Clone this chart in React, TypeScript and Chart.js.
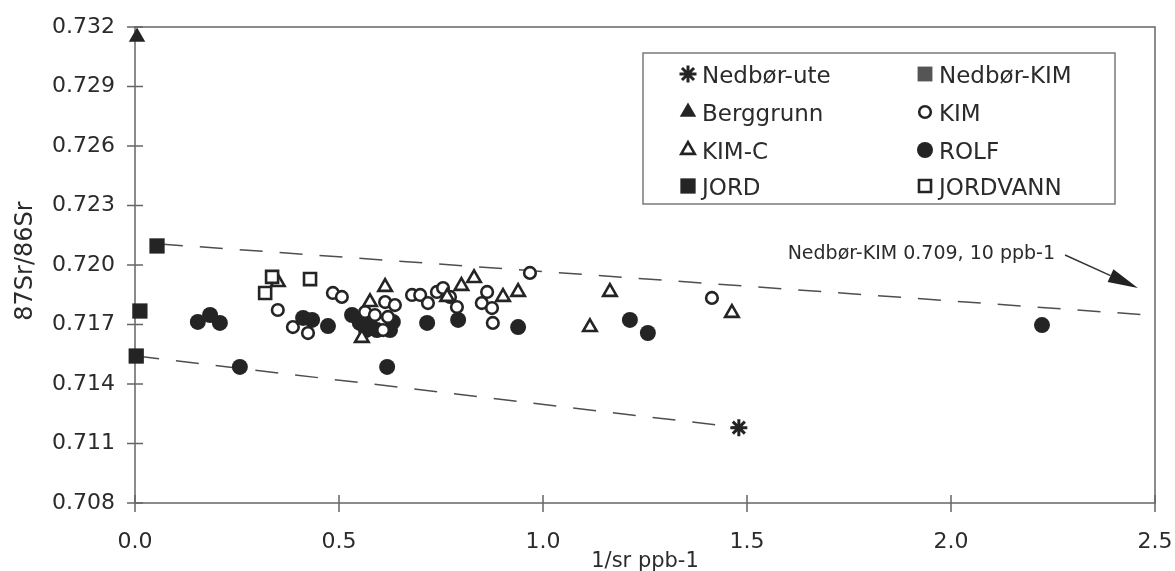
import React, { useEffect, useRef } from "react";
import { Chart, registerables } from "chart.js";
import { drawPoint } from "chart.js/helpers";

Chart.register(...registerables);

// ---------------- data ----------------
const nedborUteX = [1.48];
const nedborUteY = [0.7118];

const nedborKimX = [10];
const nedborKimY = [0.709];

const berggrunnX = [0.005];
const berggrunnY = [0.7315];

const kimX = [0.35, 0.387, 0.424, 0.485, 0.507, 0.564, 0.588, 0.613, 0.637, 0.62, 0.608, 0.679, 0.699, 0.718, 0.74, 0.755, 0.772, 0.789, 0.863, 0.85, 0.875, 0.877, 0.968, 1.414];
const kimY = [0.71773, 0.71687, 0.71657, 0.71859, 0.71839, 0.71763, 0.71748, 0.71813, 0.71798, 0.71738, 0.71672, 0.71849, 0.71849, 0.71808, 0.71864, 0.71884, 0.71839, 0.71788, 0.71864, 0.71808, 0.71783, 0.71708, 0.7196, 0.71834];

const kimCX = [0.35, 0.556, 0.576, 0.613, 0.765, 0.8, 0.831, 0.902, 0.939, 1.115, 1.164, 1.463];
const kimCY = [0.71914, 0.71632, 0.71813, 0.71889, 0.71839, 0.71894, 0.71934, 0.71839, 0.71864, 0.71687, 0.71864, 0.71758];

const rolfX = [0.154, 0.184, 0.208, 0.257, 0.412, 0.434, 0.473, 0.532, 0.551, 0.566, 0.576, 0.593, 0.625, 0.632, 0.618, 0.716, 0.792, 0.939, 1.213, 1.257, 2.223];
const rolfY = [0.71713, 0.71748, 0.71708, 0.71486, 0.71733, 0.71723, 0.71692, 0.71748, 0.71708, 0.71672, 0.71697, 0.71672, 0.71672, 0.71713, 0.71486, 0.71708, 0.71723, 0.71687, 0.71723, 0.71657, 0.71697];

const jordX = [0.054, 0.012, 0.003];
const jordY = [0.72096, 0.71768, 0.71541];

const jordvannX = [0.336, 0.319, 0.429];
const jordvannY = [0.7194, 0.71859, 0.71929];

const upperLineX = [0.061, 2.5];
const upperLineY = [0.72106, 0.71745];
const lowerLineX = [0.003, 1.48];
const lowerLineY = [0.71541, 0.7118];

const xMin = 0;
const xMax = 2.5;
const xStep = 0.5;
const yMin = 0.708;
const yMax = 0.732;
const yStep = 0.003;

const xTitle = "1/sr ppb-1";
const yTitle = "87Sr/86Sr";
const noteText = "Nedbør-KIM 0.709, 10 ppb-1";

// ---------------- styles ----------------
const INK = "#242424";
const AXIS = "#666666";
const TEXT = "#2b2b2b";
const FONT = "'DejaVu Sans', sans-serif";

type Mk = { style: any; r: number; fill: string; stroke: string; bw: number };
const mk = {
  nedborUte: { style: "star", r: 8.5, fill: INK, stroke: INK, bw: 3 } as Mk,
  nedborKim: { style: "rect", r: 10.5, fill: "#555555", stroke: "#555555", bw: 0 } as Mk,
  berggrunn: { style: "triangle", r: 9.5, fill: INK, stroke: INK, bw: 0 } as Mk,
  kim: { style: "circle", r: 5.8, fill: "#ffffff", stroke: INK, bw: 2.6 } as Mk,
  kimC: { style: "triangle", r: 7.8, fill: "#ffffff", stroke: INK, bw: 2.6 } as Mk,
  rolf: { style: "circle", r: 8, fill: INK, stroke: INK, bw: 0 } as Mk,
  jord: { style: "rect", r: 10.8, fill: INK, stroke: INK, bw: 0 } as Mk,
  jordvann: { style: "rect", r: 8.5, fill: "#ffffff", stroke: INK, bw: 2.6 } as Mk,
};

const zip = (xs: number[], ys: number[]) => xs.map((x, i) => ({ x, y: ys[i] }));

const pointSet = (label: string, xs: number[], ys: number[], m: Mk, order: number, clip: any = false) => ({
  type: "scatter" as const,
  label,
  data: zip(xs, ys),
  pointStyle: m.style,
  pointRadius: m.r,
  pointBackgroundColor: m.fill,
  pointBorderColor: m.stroke,
  pointBorderWidth: m.bw,
  showLine: false,
  order,
  clip,
});

const lineSet = (xs: number[], ys: number[]) => ({
  type: "line" as const,
  label: "",
  data: zip(xs, ys),
  borderColor: "#4e4e4e",
  borderWidth: 1.5,
  borderDash: [23, 17],
  pointRadius: 0,
  showLine: true,
  fill: false,
  order: 20,
});

const legendLeft: [string, Mk][] = [
  ["Nedbør-ute", mk.nedborUte],
  ["Berggrunn", mk.berggrunn],
  ["KIM-C", mk.kimC],
  ["JORD", mk.jord],
];
const legendRight: [string, Mk][] = [
  ["Nedbør-KIM", mk.nedborKim],
  ["KIM", mk.kim],
  ["ROLF", mk.rolf],
  ["JORDVANN", mk.jordvann],
];

function paintMarker(ctx: CanvasRenderingContext2D, m: Mk, x: number, y: number, scale = 1) {
  ctx.save();
  ctx.fillStyle = m.fill;
  ctx.strokeStyle = m.stroke;
  ctx.lineWidth = m.bw;
  drawPoint(ctx, { pointStyle: m.style, radius: m.r * scale, rotation: 0, borderWidth: m.bw } as any, x, y);
  ctx.restore();
}

const decor = {
  id: "decor",
  beforeDatasetsDraw(chart: any) {
    const { ctx, chartArea: a } = chart;
    const xs = chart.scales.x;
    const ys = chart.scales.y;
    ctx.save();
    ctx.strokeStyle = AXIS;
    ctx.lineWidth = 1.5;
    ctx.strokeRect(a.left, a.top, a.right - a.left, a.bottom - a.top);
    ctx.beginPath();
    ys.ticks.forEach((t: any) => {
      const p = ys.getPixelForValue(t.value);
      ctx.moveTo(a.left - 8, p);
      ctx.lineTo(a.left + 8, p);
    });
    xs.ticks.forEach((t: any) => {
      const p = xs.getPixelForValue(t.value);
      ctx.moveTo(p, a.bottom - 8);
      ctx.lineTo(p, a.bottom + 9);
    });
    ctx.stroke();
    ctx.restore();
  },
  afterDraw(chart: any) {
    const { ctx, chartArea: a } = chart;
    const xs = chart.scales.x;
    const ys = chart.scales.y;
    ctx.save();

    // axis titles
    ctx.fillStyle = TEXT;
    ctx.font = `21px ${FONT}`;
    ctx.textAlign = "center";
    ctx.textBaseline = "alphabetic";
    ctx.fillText(xTitle, (a.left + a.right) / 2, 567);

    ctx.save();
    ctx.translate(32, (a.top + a.bottom) / 2 - 4);
    ctx.rotate(-Math.PI / 2);
    ctx.font = `24px ${FONT}`;
    ctx.fillText(yTitle, 0, 0);
    ctx.restore();

    // annotation
    const tx = xs.getPixelForValue(2.255);
    const ty = ys.getPixelForValue(0.7203);
    ctx.font = `19px ${FONT}`;
    ctx.textAlign = "right";
    ctx.fillText(noteText, tx, ty);
    const x0 = tx + 10, y0 = ty - 4;
    const x1 = xs.getPixelForValue(2.458), y1 = ys.getPixelForValue(0.71884);
    const ang = Math.atan2(y1 - y0, x1 - x0);
    const hl = 30, hw = 7;
    const bx = x1 - hl * Math.cos(ang), by = y1 - hl * Math.sin(ang);
    ctx.strokeStyle = "#333333";
    ctx.lineWidth = 1.5;
    ctx.beginPath();
    ctx.moveTo(x0, y0);
    ctx.lineTo(bx, by);
    ctx.stroke();
    ctx.fillStyle = "#222222";
    ctx.beginPath();
    ctx.moveTo(x1, y1);
    ctx.lineTo(bx - hw * Math.sin(ang), by + hw * Math.cos(ang));
    ctx.lineTo(bx + hw * Math.sin(ang), by - hw * Math.cos(ang));
    ctx.closePath();
    ctx.fill();

    // legend
    const L = a.right - 512, T = a.top + 26, W = 472, H = 151;
    ctx.fillStyle = "#ffffff";
    ctx.fillRect(L, T, W, H);
    ctx.strokeStyle = "#7a7a7a";
    ctx.lineWidth = 1.5;
    ctx.strokeRect(L, T, W, H);
    ctx.font = `23px ${FONT}`;
    ctx.textAlign = "left";
    ctx.textBaseline = "alphabetic";
    const rows = [T + 21, T + 59, T + 97, T + 133];
    const cols = [L + 45, L + 282];
    [legendLeft, legendRight].forEach((col, ci) => {
      col.forEach(([label, m], ri) => {
        const cy = rows[ri];
        paintMarker(ctx, m, cols[ci], cy, 1);
        ctx.fillStyle = TEXT;
        ctx.fillText(label, cols[ci] + 14, cy + 8.5);
      });
    });
    ctx.restore();
  },
};

export default function App() {
  const ref = useRef<HTMLCanvasElement | null>(null);
  useEffect(() => {
    document.body.style.margin = "0";
    const canvas = ref.current;
    if (!canvas) return;
    const chart = new Chart(canvas, {
      type: "scatter",
      data: {
        datasets: [
          pointSet("Nedbør-ute", nedborUteX, nedborUteY, mk.nedborUte, 1),
          pointSet("Nedbør-KIM", nedborKimX, nedborKimY, mk.nedborKim, 1, 0),
          pointSet("Berggrunn", berggrunnX, berggrunnY, mk.berggrunn, 1),
          pointSet("JORD", jordX, jordY, mk.jord, 1),
          pointSet("JORDVANN", jordvannX, jordvannY, mk.jordvann, 2),
          pointSet("KIM-C", kimCX, kimCY, mk.kimC, 3),
          pointSet("KIM", kimX, kimY, mk.kim, 4),
          pointSet("ROLF", rolfX, rolfY, mk.rolf, 5),
          lineSet(upperLineX, upperLineY),
          lineSet(lowerLineX, lowerLineY),
        ] as any,
      },
      options: {
        responsive: false,
        animation: false,
        devicePixelRatio: 1,
        layout: { padding: { top: 27, right: 20, left: 0, bottom: 0 } },
        plugins: { legend: { display: false }, tooltip: { enabled: false } },
        scales: {
          x: {
            type: "linear",
            min: xMin,
            max: xMax,
            grid: { display: false, drawTicks: false },
            border: { display: false },
            ticks: {
              stepSize: xStep,
              padding: 26,
              color: TEXT,
              maxRotation: 0,
              font: { family: FONT, size: 22 },
              callback: (v: any) => Number(v).toFixed(1),
            },
            afterFit: (s: any) => {
              s.height = 68;
              s.paddingLeft = 0;
              s.paddingRight = 0;
            },
          },
          y: {
            type: "linear",
            min: yMin,
            max: yMax,
            grid: { display: false, drawTicks: false },
            border: { display: false },
            ticks: {
              stepSize: yStep,
              padding: 20,
              color: TEXT,
              font: { family: FONT, size: 22 },
              callback: (v: any) => Number(v).toFixed(3),
            },
            afterFit: (s: any) => {
              s.width = 135;
              s.paddingTop = 0;
              s.paddingBottom = 0;
            },
          },
        },
      } as any,
      plugins: [decor],
    });
    return () => chart.destroy();
  }, []);
  return (
    <div style={{ width: 1175, height: 571 }}>
      <canvas ref={ref} width={1175} height={571} style={{ display: "block" }} />
    </div>
  );
}
